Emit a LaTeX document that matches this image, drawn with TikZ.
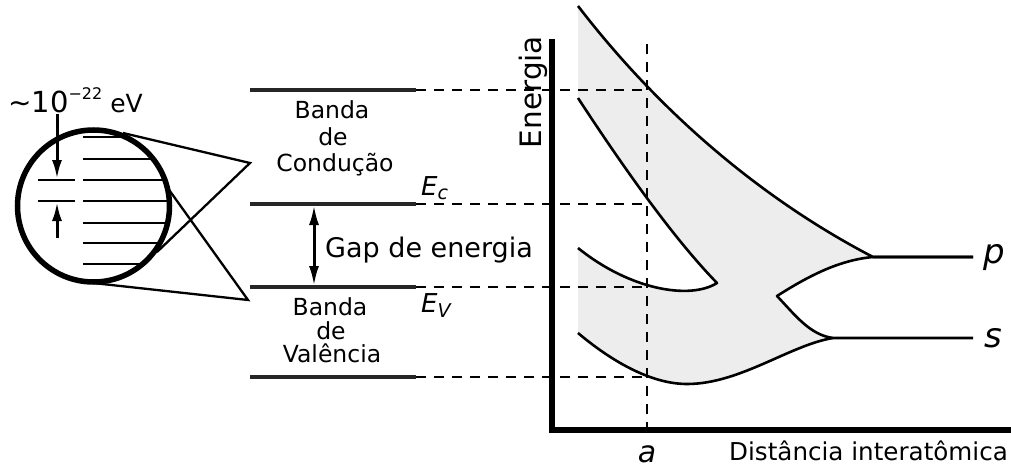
\documentclass[tikz,border=0pt]{standalone}
\usepackage{fontspec}
\setmainfont{DejaVu Sans}
\usetikzlibrary{arrows.meta}
\newcommand{\fsz}[1]{\fontsize{#1}{#1}\selectfont}
\begin{document}
\begin{tikzpicture}[x=1pt,y=-1pt,
  band/.style={line width=4pt, black!85},
  dsh/.style={line width=2.4pt, dash pattern=on 10pt off 8pt},
  crv/.style={line width=2.6pt, line join=round},
  ax/.style={line width=5.5pt},
  thin line/.style={line width=2.3pt},
  lvl/.style={line width=2.7pt},
  lbl/.style={inner sep=0pt, font=\fsz{23.5}, anchor=base},
  bigtip/.style={{Latex[length=20pt,width=10pt]}-{Latex[length=20pt,width=10pt]}},
  smalltip/.style={-{Latex[length=19pt,width=10pt]}},
]
\useasboundingbox (0,0) rectangle (1011,468);

% ---------- key coordinates of the band diagram ----------
\coordinate (A) at (578,6);
\coordinate (P) at (873,257);
\coordinate (Pend) at (973,257);
\coordinate (N) at (777,296);
\coordinate (S) at (833,338);
\coordinate (Send) at (973,338);
\coordinate (M) at (687,384);
\coordinate (B) at (578,333);
\coordinate (L2) at (578,248);
\coordinate (T) at (717,283);
\coordinate (L1) at (578,98);

% ---------- filled band region ----------
\fill[gray!14] (A) .. controls (668,123) and (773,205) .. (P)
 .. controls (840,260) and (810,275) .. (N)
 .. controls (795,315) and (810,335) .. (S)
 .. controls (790,345) and (740,384) .. (M)
 .. controls (650,384) and (610,360) .. (B)
 -- (L2)
 .. controls (630,290) and (690,300) .. (T)
 .. controls (675,240) and (625,170) .. (L1) -- cycle;

% ---------- band level lines ----------
\coordinate (b1l) at (250,90);  \coordinate (b1r) at (416,90);
\coordinate (b2l) at (250,204); \coordinate (b2r) at (416,204);
\coordinate (b3l) at (250,287); \coordinate (b3r) at (416,287);
\coordinate (b4l) at (250,377); \coordinate (b4r) at (416,377);
\draw[band] (b1l) -- (b1r);
\draw[band] (b2l) -- (b2r);
\draw[band] (b3l) -- (b3r);
\draw[band] (b4l) -- (b4r);

% ---------- dashed lines ----------
\coordinate (d1) at (647,90);
\coordinate (d2) at (647,204);
\coordinate (d3) at (647,287);
\coordinate (d4) at (647,377);
\coordinate (vt) at (647,44);
\coordinate (vb) at (647,428);
\draw[dsh] (b1r) -- (d1);
\draw[dsh] (b2r) -- (d2);
\draw[dsh] (b3r) -- (d3);
\draw[dsh] (b4r) -- (d4);
\draw[dsh] (vt) -- (vb);

% ---------- curves ----------
\draw[crv] (A) .. controls (668,123) and (773,205) .. (P) -- (Pend);
\draw[crv] (Pend) -- (P) .. controls (840,260) and (810,275) .. (N)
 .. controls (795,315) and (810,335) .. (S) -- (Send);
\draw[crv] (S) .. controls (790,345) and (740,384) .. (M)
 .. controls (650,384) and (610,360) .. (B);
\draw[crv] (L2) .. controls (630,290) and (690,300) .. (T)
 .. controls (675,240) and (625,170) .. (L1);

% ---------- axes ----------
\coordinate (ytop) at (552,39);
\coordinate (orig) at (552,430);
\coordinate (xend) at (1011,430);
\draw[ax] (ytop) -- (orig) -- (xend);

% ---------- labels ----------
\node[rotate=90, anchor=base, inner sep=0pt, font=\fsz{29.5}] (en) at (541,92) {Energia};
\node[anchor=base west, inner sep=0pt, font=\fsz{24.6}] (dist) at (729,460) {Distância interatômica};
\node[anchor=base, inner sep=0pt, font=\fsz{30}\itshape] (alab) at (647,462) {a};
\node[anchor=base west, inner sep=0pt, font=\fsz{34}\itshape] (plab) at (983,263) {p};
\node[anchor=base west, inner sep=0pt, font=\fsz{34}\itshape] (slab) at (984,347) {s};

\node[lbl] (bc1) at (332,119) {Banda};
\node[lbl] (bc2) at (333,145) {de};
\node[lbl] (bc3) at (335,171) {Condução};
\node[lbl] (bv1) at (330,315) {Banda};
\node[lbl] (bv2) at (331,339) {de};
\node[lbl] (bv3) at (332,362) {Valência};

\node[anchor=base west, inner sep=0pt, font=\fsz{27}] (gap) at (325,257) {Gap de energia};
\node[anchor=base west, inner sep=0pt, font=\fsz{26}\itshape] (ec) at (421,195) {E\raisebox{-4pt}{\fsz{19}c}};
\node[anchor=base west, inner sep=0pt, font=\fsz{26}\itshape] (ev) at (421,312) {E\raisebox{-5pt}{\fsz{19}V}};

\coordinate (gt) at (314,205);
\coordinate (gb) at (314,286);
\draw[line width=3pt, bigtip] (gt) -- (gb);

% ---------- magnified circle ----------
\coordinate (cc) at (93.5,206);
\coordinate (z0) at (250,163);
\coordinate (z1) at (123,133);
\coordinate (z2) at (157,252);
\coordinate (z3) at (248,300);
\coordinate (z4) at (93,283);
\coordinate (z5) at (167,187);
\draw[thin line] (z1) -- (z0) -- (z2);
\draw[thin line] (z4) -- (z3) -- (z5);

\begin{scope}
\clip (cc) circle (76pt);
\foreach \yy in {137,159,180,201,223,243,264} {
  \draw[lvl] (83,\yy) -- (200,\yy);
}
\end{scope}
\coordinate (s1l) at (38,180); \coordinate (s1r) at (75,180);
\coordinate (s2l) at (38,201); \coordinate (s2r) at (75,201);
\draw[lvl] (s1l) -- (s1r);
\draw[lvl] (s2l) -- (s2r);
\draw[line width=5.5pt] (cc) circle (76pt);

\coordinate (a1s) at (57,114);
\coordinate (a1e) at (57,179);
\coordinate (a2s) at (57,238);
\coordinate (a2e) at (57,202);
\draw[line width=3pt, smalltip] (a1s) -- (a1e);
\draw[line width=3pt, smalltip] (a2s) -- (a2e);

\node[anchor=base west, inner sep=0pt] (sep) at (8,113)
 {\fsz{28}\textasciitilde\fsz{29}10\raisebox{13pt}{\fsz{16}−22}\hspace{8pt}\fsz{25}eV};
\end{tikzpicture}
\end{document}
